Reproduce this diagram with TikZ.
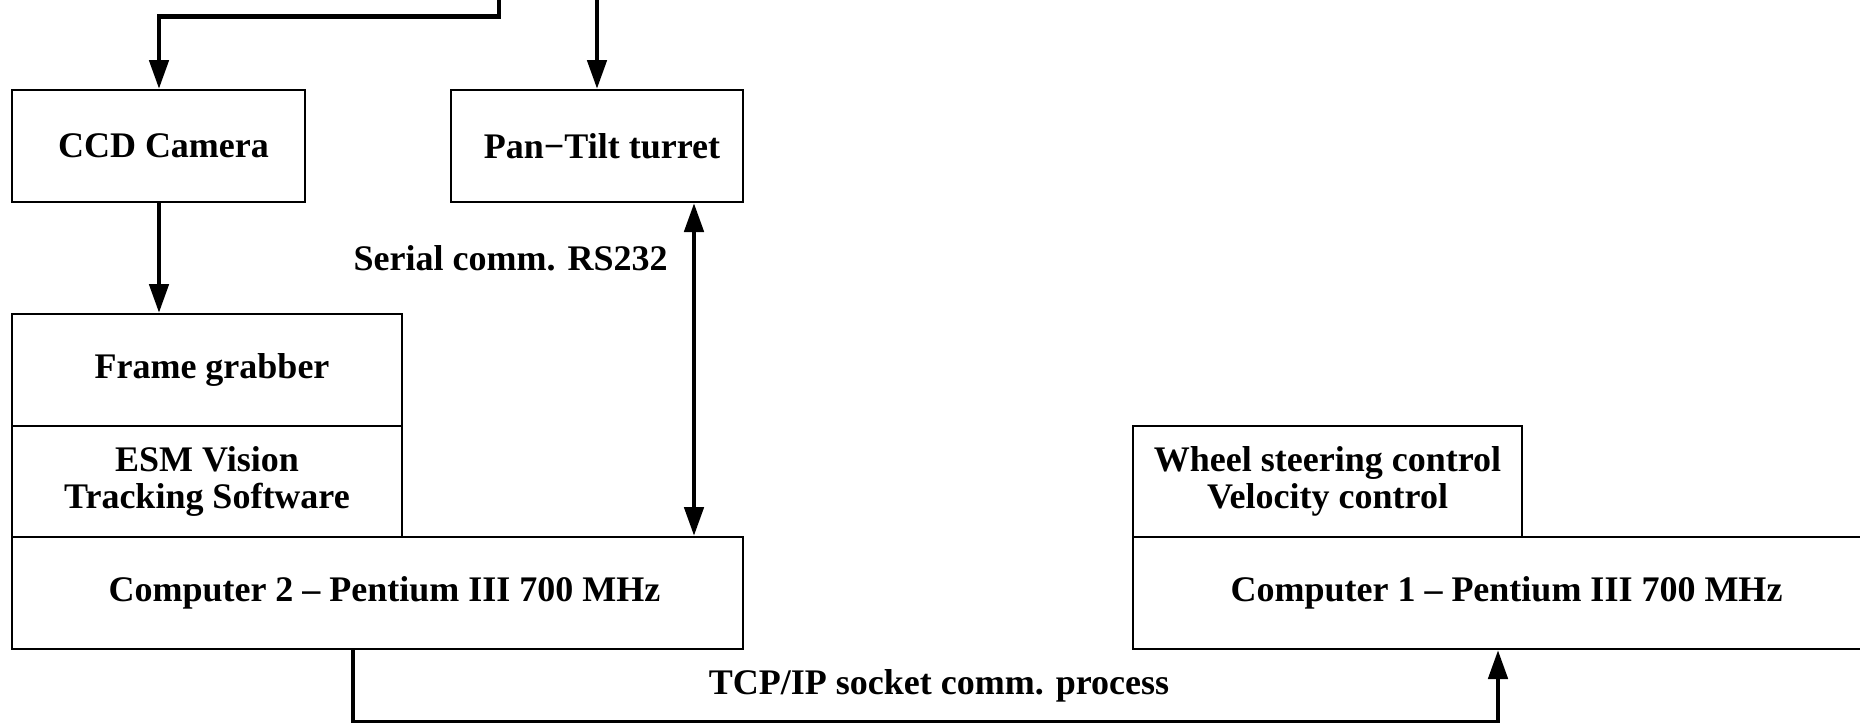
\documentclass[tikz,border=0pt]{standalone}
\usepackage{fontspec}
\setmainfont{Liberation Serif}
\usetikzlibrary{arrows.meta}
\begin{document}
\begin{tikzpicture}[x=0.5pt,y=-0.5pt,
  box/.style={draw, line width=1pt, inner sep=0pt, align=center,
    font=\fontsize{18}{18.5}\selectfont\bfseries},
  conn/.style={line width=2.4pt},
  arr/.style={conn, -{Triangle[length=14.5pt,width=9.5pt]}},
  darr/.style={conn, {Triangle[length=14.5pt,width=9.5pt]}-{Triangle[length=14.5pt,width=9.5pt]}},
  lbl/.style={font=\fontsize{18}{18.5}\selectfont\bfseries, inner sep=0pt}]
\path[use as bounding box, clip] (0,0) rectangle (1860,723);

\node[box, minimum width=146.5pt, minimum height=56pt] (ccd) at (158.5,146) {\hspace*{5pt}CCD Camera};
\node[box, minimum width=146pt, minimum height=56pt] (pan) at (597,146) {\hspace*{5pt}Pan−Tilt turret};
\node[box, minimum width=195pt, minimum height=56pt] (fg) at (207,370) {\hspace*{5pt}Frame grabber};
\node[box, minimum width=195pt, minimum height=55.5pt] (esm) at (207,481.5) {ESM Vision\\Tracking Software};
\node[box, minimum width=365.5pt, minimum height=56pt] (c2) at (377.5,593) {\hspace*{7pt}Computer 2 – Pentium III 700 MHz};
\node[box, minimum width=194.5pt, minimum height=55.5pt] (wh) at (1327.5,481.5) {Wheel steering control\\Velocity control};
\node[box, minimum width=368.5pt, minimum height=56pt] (c1) at (1501.5,593) {\hspace*{5pt}Computer 1 – Pentium III 700 MHz};

\node[lbl] (serial) at (510.7,258.6) {Serial comm. RS232};
\node[lbl] (tcp) at (939,686) {TCP/IP socket comm. process};

\coordinate (t1) at (499,-10);
\coordinate (t2) at (597,-10);
\coordinate (bend1) at (499,16.6);
\coordinate (xccd) at (159,0);
\coordinate (xser) at (694,0);
\coordinate (xl) at (353,722);
\coordinate (xr) at (1498,722);

\draw[arr] (t1) -- (bend1) -- (bend1 -| xccd) -- (ccd.north -| xccd);
\draw[arr] (t2) -- (pan.north);
\draw[arr] (ccd.south -| xccd) -- (fg.north -| xccd);
\draw[darr] (pan.south -| xser) -- (c2.north -| xser);
\draw[arr] (c2.south -| xl) -- (xl) -- (xr) -- (c1.south -| xr);
\end{tikzpicture}
\end{document}
